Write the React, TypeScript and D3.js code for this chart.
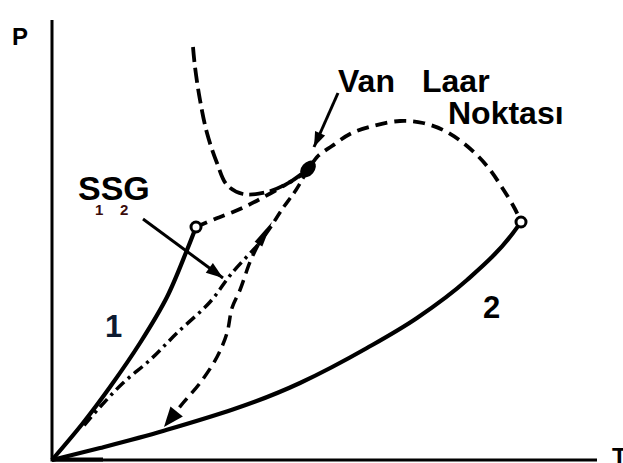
import * as d3 from 'd3';

// P-T diagram data (T, P in arbitrary units: 1 unit = 5px)
const curve1 = [[0, 0], [6.2, 7.4], [11.6, 14.6], [17.6, 23.4], [23, 32.6], [27, 42], [28.8, 46.6]];
const curve2 = [[0, 0], [9.6, 2.4], [22.2, 5.8], [49.6, 15.4], [63, 22.4], [73, 28.4], [83, 36], [92.2, 45.4], [93.8, 47.6]];
const criticalLine = [
  [28.8, 46.6], [32.6, 48.2], [37.6, 50.2], [42, 52.4], [46.6, 55], [49.6, 56.8], [51.2, 58.2],
  [53.2, 60.8], [56, 62.8], [59.6, 65.2], [64.2, 66.8], [69.6, 67.8], [74.2, 67.4], [78.6, 65.8],
  [83, 62.8], [87, 58.8], [90.2, 54.2], [92.6, 50.2], [93.8, 47.6],
];
const azeotropeLine = [[28.2, 82.6], [28.6, 78.6], [29.6, 72], [31, 65.4], [33, 59.4], [35, 55], [38.2, 53.2], [43, 53.6], [47.6, 55.6], [51.2, 58.2]];
const vlDescent = [[51.2, 58.2], [48.8, 54], [46.2, 50.4], [43.6, 46.4], [41.2, 43]];
const ssgTrace = [[41.2, 43], [36, 37.4], [31.6, 31.6], [25, 25.4], [19.6, 20], [14.2, 15.4], [9.6, 10.6], [6, 6.4]];
const retroPath = [[41.2, 43], [39.6, 39.6], [37.6, 34], [36, 30.4], [35, 25.4], [33, 20.6], [29.6, 15.4], [26.2, 11.4], [22.4, 6.6]];

const criticalPoints = [[28.8, 46.6], [93.8, 47.6]];
const vanLaarPoint = [51.2, 58.2];

const vlArrow = [[57.2, 73.4], [52.4, 62.6]];
const ssgArrow = [[18.2, 48.2], [34.2, 36.4]];
const midArrow = [[41.2, 43], [44, 47.6]];

const W = 623;
const H = 463;

function head(tip, from, len, half) {
  const dx = tip[0] - from[0];
  const dy = tip[1] - from[1];
  const d = Math.hypot(dx, dy);
  const ux = dx / d, uy = dy / d;
  const bx = tip[0] - ux * len, by = tip[1] - uy * len;
  return `M${tip[0]},${tip[1]}L${bx - uy * half},${by + ux * half}L${bx + uy * half},${by - ux * half}Z`;
}

export default function App() {
  const x = d3.scaleLinear().domain([0, 109]).range([52, 597]);
  const y = d3.scaleLinear().domain([0, 90]).range([460, 10]);
  const line = d3.line().x((d) => x(d[0])).y((d) => y(d[1])).curve(d3.curveCatmullRom);
  const smooth = d3.line().x((d) => x(d[0])).y((d) => y(d[1])).curve(d3.curveMonotoneX);
  const px = (p) => [x(p[0]), y(p[1])];

  const font = "'Liberation Sans', Arial, sans-serif";

  const retroEnd = px(retroPath[retroPath.length - 1]);
  const retroPrev = px(retroPath[retroPath.length - 3]);

  return (
    <svg width={W} height={H} style={{ position: 'absolute', left: 0, top: 0, background: '#fff' }}>
      {/* axes */}
      <line x1={x(0)} y1={y(88)} x2={x(0)} y2={y(0) + 1.5} stroke="#000" strokeWidth={3} />
      <line x1={x(0)} y1={y(0)} x2={x(109)} y2={y(0)} stroke="#000" strokeWidth={3} />
      <line x1={x(0)} y1={y(0) - 0.5} x2={x(10.2)} y2={y(0) - 0.5} stroke="#000" strokeWidth={4} />

      {/* vapour pressure curves */}
      <path d={line(curve1)} fill="none" stroke="#000" strokeWidth={4.2} />
      <path d={smooth(curve2)} fill="none" stroke="#000" strokeWidth={4.2} />

      {/* dashed curves */}
      <path d={line(criticalLine)} fill="none" stroke="#000" strokeWidth={3.8} strokeDasharray="12 7" />
      <path d={line(azeotropeLine)} fill="none" stroke="#000" strokeWidth={3.8} strokeDasharray="15 6" />
      <path d={line(vlDescent)} fill="none" stroke="#000" strokeWidth={3.5} strokeDasharray="11 6" />
      <path d={line(ssgTrace)} fill="none" stroke="#000" strokeWidth={3.5} strokeDasharray="11 5 3 5" />
      <path d={line(retroPath)} fill="none" stroke="#000" strokeWidth={3.5} strokeDasharray="12 7" />

      {/* arrows */}
      <line x1={x(vlArrow[0][0])} y1={y(vlArrow[0][1])} x2={x(vlArrow[1][0])} y2={y(vlArrow[1][1])} stroke="#000" strokeWidth={3} />
      <path d={head(px(vlArrow[1]), px(vlArrow[0]), 15, 5.5)} fill="#000" />
      <line x1={x(ssgArrow[0][0])} y1={y(ssgArrow[0][1])} x2={x(ssgArrow[1][0])} y2={y(ssgArrow[1][1])} stroke="#000" strokeWidth={3} />
      <path d={head(px(ssgArrow[1]), px(ssgArrow[0]), 17, 6)} fill="#000" />
      <path d={head(px(midArrow[1]), px(midArrow[0]), 26, 4.5)} fill="#000" />
      <path d={head(retroEnd, retroPrev, 20, 8)} fill="#000" />

      {/* points */}
      {criticalPoints.map((p, i) => (
        <circle key={i} cx={x(p[0])} cy={y(p[1])} r={5} fill="#fff" stroke="#000" strokeWidth={3} />
      ))}
      <ellipse
        cx={x(vanLaarPoint[0])}
        cy={y(vanLaarPoint[1])}
        rx={9.5}
        ry={6.5}
        fill="#000"
        transform={`rotate(-50 ${x(vanLaarPoint[0])} ${y(vanLaarPoint[1])})`}
      />

      {/* labels */}
      <g fontFamily={font} fontWeight="bold" fill="#000">
        <text x={x(-8)} y={y(83)} fontSize={24}>P</text>
        <text x={x(112)} y={y(-1)} fontSize={24}>T</text>
        <text x={x(57.2)} y={y(73.6)} fontSize={32}>Van</text>
        <text x={x(74)} y={y(73.6)} fontSize={32}>Laar</text>
        <text x={x(79.2)} y={y(67.2)} fontSize={32}>Noktası</text>
        <text x={x(5.2)} y={y(52)} fontSize={34}>SSG</text>
        <text x={x(8.6)} y={y(49)} fontSize={15} fill="#3a0c0c">1</text>
        <text x={x(13.6)} y={y(49)} fontSize={15} fill="#3a0c0c">2</text>
        <text x={x(10.6)} y={y(24.6)} fontSize={31} fill="#0d1a30">1</text>
        <text x={x(86.2)} y={y(28.4)} fontSize={31}>2</text>
      </g>
    </svg>
  );
}
